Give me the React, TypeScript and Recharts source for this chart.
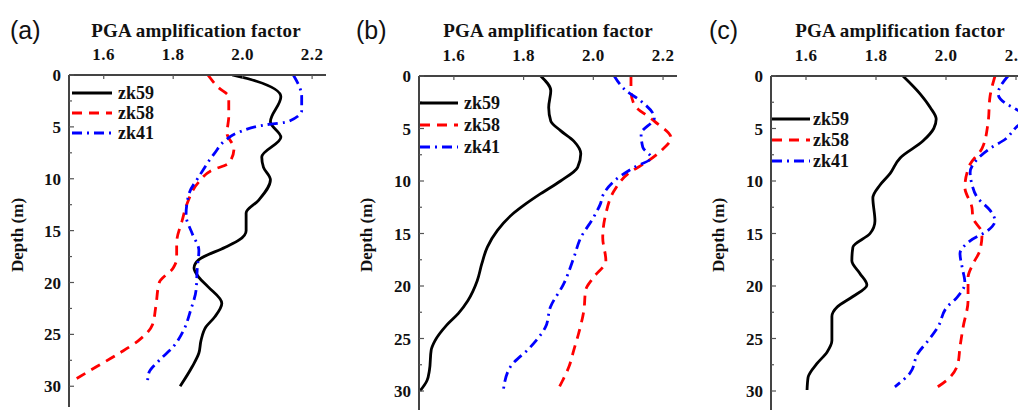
import React from "react";
import { Legend, Line, LineChart, XAxis, YAxis } from "recharts";

// ---- PGA amplification factor vs depth, three boreholes per site ----

// (a)
const aZk59Depth = [0, 0.6, 2.1, 4.5, 6.0, 7.9, 8.9, 10.1, 12.1, 13.3, 15.0, 15.9, 16.6, 17.8, 18.6, 19.5, 20.4, 22.0, 23.3, 24.3, 25.6, 26.8, 28.1, 30];
const aZk59Pga = [1.97, 2.04, 2.11, 2.08, 2.11, 2.055, 2.06, 2.08, 2.045, 2.01, 2.01, 1.99, 1.95, 1.874, 1.86, 1.874, 1.9, 1.94, 1.92, 1.894, 1.88, 1.874, 1.855, 1.82];
const aZk58Depth = [0, 1.2, 2.1, 4.0, 5.6, 7.1, 8.5, 9.2, 10.3, 12.4, 14.0, 16.2, 17.7, 18.6, 20.0, 22.3, 24.1, 25.6, 26.8, 28.1, 29.5];
const aZk58Pga = [1.9, 1.93, 1.96, 1.96, 1.955, 1.975, 1.96, 1.91, 1.874, 1.84, 1.826, 1.81, 1.81, 1.8, 1.76, 1.75, 1.74, 1.7, 1.646, 1.58, 1.51];
const aZk41Depth = [0, 2.1, 3.4, 4.5, 4.8, 5.5, 6.3, 7.5, 9.8, 11.4, 13.5, 15.3, 16.9, 18.8, 20.7, 22.7, 24.6, 26.2, 27.5, 28.7, 29.6];
const aZk41Pga = [2.146, 2.17, 2.17, 2.13, 2.066, 1.99, 1.95, 1.92, 1.874, 1.846, 1.837, 1.855, 1.874, 1.869, 1.866, 1.85, 1.83, 1.8, 1.76, 1.73, 1.726];

// (b)
const bZk59Depth = [0, 1.4, 3.0, 4.3, 5.2, 6.2, 7.4, 8.7, 10.0, 11.2, 12.2, 13.1, 14.7, 16.3, 17.9, 19.5, 21.4, 22.6, 23.7, 25.2, 26.1, 28.0, 29.0, 30];
const bZk59Pga = [1.849, 1.878, 1.872, 1.878, 1.906, 1.944, 1.964, 1.955, 1.906, 1.849, 1.805, 1.77, 1.725, 1.696, 1.68, 1.667, 1.64, 1.613, 1.58, 1.546, 1.535, 1.53, 1.523, 1.503];
const bZk58Depth = [0, 1.4, 2.7, 4.3, 5.9, 7.1, 8.1, 9.3, 10.9, 13.1, 15.4, 17.6, 19.2, 20.4, 22.3, 24.5, 26.1, 27.7, 29.0, 29.9];
const bZk58Pga = [2.108, 2.108, 2.117, 2.175, 2.223, 2.195, 2.157, 2.1, 2.06, 2.036, 2.027, 2.036, 2.0, 1.978, 1.973, 1.958, 1.944, 1.93, 1.912, 1.898];
const bZk41Depth = [0, 1.4, 2.4, 4.0, 5.5, 6.8, 7.8, 8.7, 10.0, 11.2, 12.2, 13.5, 15.4, 17.3, 19.8, 22.0, 23.9, 25.8, 27.7, 29.9];
const bZk41Pga = [2.06, 2.094, 2.137, 2.175, 2.137, 2.142, 2.166, 2.117, 2.06, 2.03, 2.02, 2.0, 1.964, 1.944, 1.915, 1.877, 1.863, 1.82, 1.762, 1.742];

// (c)
const cZk59Depth = [0, 1.7, 3.0, 4.1, 5.0, 6.2, 7.8, 9.3, 10.4, 11.6, 13.8, 15.0, 16.3, 17.6, 18.8, 19.9, 21.0, 22.0, 22.9, 25.2, 26.3, 27.4, 28.7, 29.9];
const cZk59Pga = [1.877, 1.926, 1.955, 1.972, 1.965, 1.934, 1.869, 1.84, 1.811, 1.791, 1.797, 1.783, 1.734, 1.731, 1.754, 1.774, 1.734, 1.689, 1.674, 1.674, 1.66, 1.631, 1.606, 1.603];
const cZk58Depth = [0, 1.9, 4.5, 6.9, 8.4, 10.6, 12.5, 13.5, 15.0, 16.6, 17.9, 19.2, 21.4, 23.9, 25.8, 27.4, 28.7, 29.9];
const cZk58Pga = [2.14, 2.126, 2.12, 2.103, 2.069, 2.054, 2.074, 2.077, 2.103, 2.097, 2.077, 2.063, 2.063, 2.049, 2.04, 2.034, 2.011, 1.963];
const cZk41Depth = [0, 1.7, 2.6, 3.1, 4.0, 4.9, 6.0, 6.9, 7.9, 9.2, 10.3, 11.6, 12.8, 13.8, 14.7, 15.7, 16.9, 18.2, 19.7, 21.1, 22.0, 23.9, 25.2, 26.4, 28.3, 29.6];
const cZk41Pga = [2.177, 2.149, 2.17, 2.197, 2.23, 2.2, 2.17, 2.126, 2.09, 2.069, 2.074, 2.09, 2.126, 2.14, 2.12, 2.069, 2.04, 2.046, 2.054, 2.031, 2.003, 1.977, 1.949, 1.92, 1.897, 1.854];

const seriesNames = ["zk59", "zk58", "zk41"];
const pgaTicks = [1.6, 1.8, 2.0, 2.2];
const depthTicks = [0, 2.5, 5, 7.5, 10, 12.5, 15, 17.5, 20, 22.5, 25, 27.5, 30];

const toRows = (depth: number[], pga: number[]) => depth.map((d, i) => ({ d, v: pga[i] }));

const styles = [
  { stroke: "#000000", dash: undefined as string | undefined },
  { stroke: "#ff0000", dash: "10 7" },
  { stroke: "#0000ff", dash: "10 5 2 5" },
];

const SERIF = "'Liberation Serif', 'DejaVu Serif', 'Times New Roman', serif";
const SANS = "'Liberation Sans', Arial, sans-serif";

const PgaTick = (props: any) => {
  const { x, y, payload } = props;
  const axisY = y + 12;
  return (
    <g>
      <line x1={x} x2={x} y1={axisY} y2={axisY + 4} stroke="#555" strokeWidth={1.2} />
      <text x={x} y={y - 3} textAnchor="middle" fontFamily={SERIF} fontWeight="bold" fontSize={17} letterSpacing={0.5} fill="#111">
        {payload.value.toFixed(1)}
      </text>
    </g>
  );
};

const DepthTick = (props: any) => {
  const { x, y, payload } = props;
  const major = payload.value % 5 === 0;
  const axisX = x + 8;
  return (
    <g>
      <line x1={axisX} x2={axisX + (major ? 5 : 3)} y1={y} y2={y} stroke="#555" strokeWidth={1.2} />
      {major && (
        <text x={x} y={y + 6} textAnchor="end" fontFamily={SERIF} fontWeight="bold" fontSize={17} fill="#111">
          {payload.value}
        </text>
      )}
    </g>
  );
};

const makeLegend = (lineLen: number, textX: number, gap: number) => () => (
  <svg width={120} height={gap * 3 + 10}>
    {seriesNames.map((name, i) => (
      <g key={name}>
        <line
          x1={0}
          x2={lineLen}
          y1={10 + i * gap}
          y2={10 + i * gap}
          stroke={styles[i].stroke}
          strokeWidth={2.8}
          strokeDasharray={styles[i].dash}
        />
        <text x={textX} y={16 + i * gap} fontFamily={SERIF} fontWeight="bold" fontSize={18} fill="#111">
          {name}
        </text>
      </g>
    ))}
  </svg>
);

const panels = [
  {
    label: "(a)",
    series: [toRows(aZk59Depth, aZk59Pga), toRows(aZk58Depth, aZk58Pga), toRows(aZk41Depth, aZk41Pga)],
    left: 0, width: 340, height: 410, axisTop: 75, axisLeft: 69, right: 14, bottom: 3,
    legend: { left: 72, top: 83, lineLen: 40, textX: 46, gap: 20 },
    labelX: 10, titleX: 196, depthX: 18,
  },
  {
    label: "(b)",
    series: [toRows(bZk59Depth, bZk59Pga), toRows(bZk58Depth, bZk58Pga), toRows(bZk41Depth, bZk41Pga)],
    left: 340, width: 350, height: 420, axisTop: 76, axisLeft: 79, right: 13, bottom: 8,
    legend: { left: 80, top: 93, lineLen: 38, textX: 44, gap: 22 },
    labelX: 356, titleX: 548, depthX: 367,
  },
  {
    label: "(c)",
    series: [toRows(cZk59Depth, cZk59Pga), toRows(cZk58Depth, cZk58Pga), toRows(cZk41Depth, cZk41Pga)],
    left: 680, width: 360, height: 420, axisTop: 76, axisLeft: 91, right: 10, bottom: 8,
    legend: { left: 92, top: 109, lineLen: 38, textX: 41, gap: 21 },
    labelX: 709, titleX: 900, depthX: 719,
  },
];

export default function App() {
  return (
    <div
      style={{
        position: "fixed",
        left: 0,
        top: 0,
        width: 1018,
        height: 410,
        overflow: "hidden",
        background: "#fff",
      }}
    >
      {panels.map((p) => (
        <React.Fragment key={p.label}>
          <div style={{ position: "absolute", left: p.left, top: 0 }}>
            <LineChart
              layout="vertical"
              width={p.width}
              height={p.height}
              margin={{ top: 0, right: p.right, bottom: p.bottom, left: 0 }}
            >
              <XAxis
                type="number"
                orientation="top"
                domain={[1.5, 2.24]}
                ticks={pgaTicks}
                allowDataOverflow
                height={p.axisTop}
                tickSize={0}
                tickMargin={12}
                tick={<PgaTick />}
                axisLine={{ stroke: "#444", strokeWidth: 2 }}
              />
              {/* depth grows downward: the vertical layout already runs this axis top to bottom */}
              <YAxis
                type="number"
                dataKey="d"
                domain={[0, 32]}
                ticks={depthTicks}
                allowDataOverflow
                width={p.axisLeft}
                tickSize={0}
                tickMargin={8}
                tick={<DepthTick />}
                axisLine={{ stroke: "#444", strokeWidth: 2 }}
              />
              <Legend
                layout="horizontal"
                verticalAlign="middle"
                align="center"
                wrapperStyle={{ left: p.legend.left, top: p.legend.top, width: 120 }}
                content={makeLegend(p.legend.lineLen, p.legend.textX, p.legend.gap)}
              />
              {p.series.map((rows, i) => (
                <Line
                  key={seriesNames[i]}
                  data={rows}
                  dataKey="v"
                  name={seriesNames[i]}
                  type="monotone"
                  stroke={styles[i].stroke}
                  strokeWidth={2.8}
                  strokeDasharray={styles[i].dash}
                  dot={false}
                  isAnimationActive={false}
                />
              ))}
            </LineChart>
          </div>
          <div
            style={{
              position: "absolute",
              left: p.labelX,
              top: 15,
              fontFamily: SANS,
              fontSize: 25,
              color: "#111",
              lineHeight: "30px",
            }}
          >
            {p.label}
          </div>
          <div
            style={{
              position: "absolute",
              left: p.titleX - 130,
              width: 260,
              top: 19,
              textAlign: "center",
              fontFamily: SERIF,
              fontWeight: "bold",
              fontSize: 19,
              letterSpacing: 0.2,
              color: "#111",
              lineHeight: "24px",
            }}
          >
            PGA amplification factor
          </div>
          <div
            style={{
              position: "absolute",
              left: p.depthX - 60,
              top: 235 - 10,
              width: 120,
              textAlign: "center",
              transform: "rotate(-90deg)",
              fontFamily: SERIF,
              fontWeight: "bold",
              fontSize: 17,
              color: "#111",
              lineHeight: "20px",
            }}
          >
            Depth (m)
          </div>
        </React.Fragment>
      ))}
    </div>
  );
}
